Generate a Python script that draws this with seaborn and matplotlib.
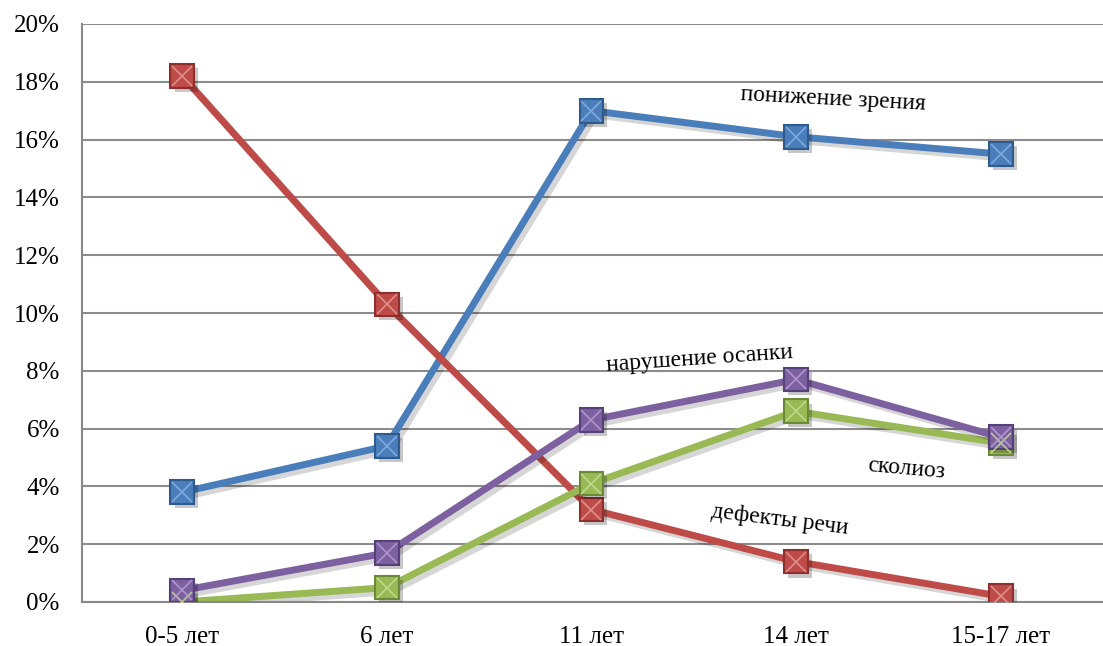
import pandas as pd
import matplotlib
matplotlib.use("Agg")
import matplotlib.pyplot as plt
import matplotlib.patheffects as pe
import seaborn as sns

# === data ===
ages = ["0-5 лет", "6 лет", "11 лет", "14 лет", "15-17 лет"]
vision = [3.8, 5.4, 17.0, 16.1, 15.5]      # понижение зрения
speech = [18.2, 10.3, 3.2, 1.4, 0.2]       # дефекты речи
scoliosis = [0.0, 0.5, 4.1, 6.6, 5.5]      # сколиоз
posture = [0.4, 1.7, 6.3, 7.7, 5.7]        # нарушение осанки

series_names = ["понижение зрения", "дефекты речи", "сколиоз", "нарушение осанки"]
series_values = [vision, speech, scoliosis, posture]
colors = ["#4A7EBB", "#BE4B48", "#98B954", "#7D60A0"]
edge_colors = ["#2E5A8E", "#8E2F2D", "#6B8A35", "#55407A"]
light_colors = ["#8DB3E2", "#E6A09E", "#C9E09A", "#B8A3D3"]

rows = []
for name, vals in zip(series_names, series_values):
    for a, v in zip(ages, vals):
        rows.append({"age": a, "value": v, "series": name})
df = pd.DataFrame(rows)

sns.set_style("white")
plt.rcParams["font.family"] = ["Liberation Serif", "DejaVu Serif"]
plt.rcParams["text.color"] = "black"
plt.rcParams["xtick.labelcolor"] = "black"
plt.rcParams["ytick.labelcolor"] = "black"

fig = plt.figure(figsize=(11.03, 6.46), dpi=100)
ax = fig.add_axes([82 / 1103, 1 - 602 / 646, 1 - 82 / 1103, (602 - 24) / 646])

line_shadow = [pe.SimpleLineShadow(offset=(3, -3), shadow_color="black", alpha=0.16), pe.Normal()]
marker_shadow = [pe.SimplePatchShadow(offset=(3, -3), shadow_rgbFace="black", alpha=0.22), pe.Normal()]

sns.lineplot(data=df, x="age", y="value", hue="series", hue_order=series_names,
             palette=colors, linewidth=5, legend=False, ax=ax, sort=False)
for line in ax.get_lines():
    line.set_path_effects(line_shadow)

xpos = list(range(len(ages)))
for vals, c, ec, lc in zip(series_values, colors, edge_colors, light_colors):
    ax.plot(xpos, vals, linestyle="none", marker="s", markersize=17,
            markerfacecolor=c, markeredgecolor=ec, markeredgewidth=1.5,
            path_effects=marker_shadow, zorder=4)
    ax.plot(xpos, vals, linestyle="none", marker="x", markersize=14,
            markeredgecolor=lc, markeredgewidth=1.2, alpha=0.8, zorder=5)

ax.set_ylim(0, 20)
ax.set_xlim(-0.49, 4.435)
ax.set_yticks(range(0, 21, 2))
ax.set_yticklabels([f"{v}%" for v in range(0, 21, 2)])
ax.set_xticks(xpos)
ax.set_xticklabels(ages)
ax.set_xticks([i + 0.5 for i in range(len(ages))], minor=True)
ax.tick_params(axis="x", which="major", length=0, pad=17, labelsize=18)
ax.tick_params(axis="x", which="minor", length=7, width=1.3, color="#888888", direction="out")
ax.tick_params(axis="y", length=8, width=1.3, color="#888888", direction="out", pad=8, labelsize=18)
ax.set_xlabel("")
ax.set_ylabel("")

ax.grid(axis="y", color="#8C8C8C", linewidth=1.5)
ax.set_axisbelow(True)
for s in ["top", "right"]:
    ax.spines[s].set_visible(False)
ax.spines["left"].set_color("#888888")
ax.spines["left"].set_linewidth(1.5)
ax.spines["bottom"].set_color("#888888")
ax.spines["bottom"].set_linewidth(1.5)

# series labels
ax.text(3.18, 17.4, "понижение зрения", fontsize=17, rotation=-3, ha="center", va="center")
ax.text(2.53, 8.4, "нарушение осанки", fontsize=17, rotation=4, ha="center", va="center")
ax.text(3.54, 4.6, "сколиоз", fontsize=17, rotation=-5, ha="center", va="center")
ax.text(2.92, 2.85, "дефекты речи", fontsize=17, rotation=-7, ha="center", va="center")

fig.savefig("out.png", dpi=100)
